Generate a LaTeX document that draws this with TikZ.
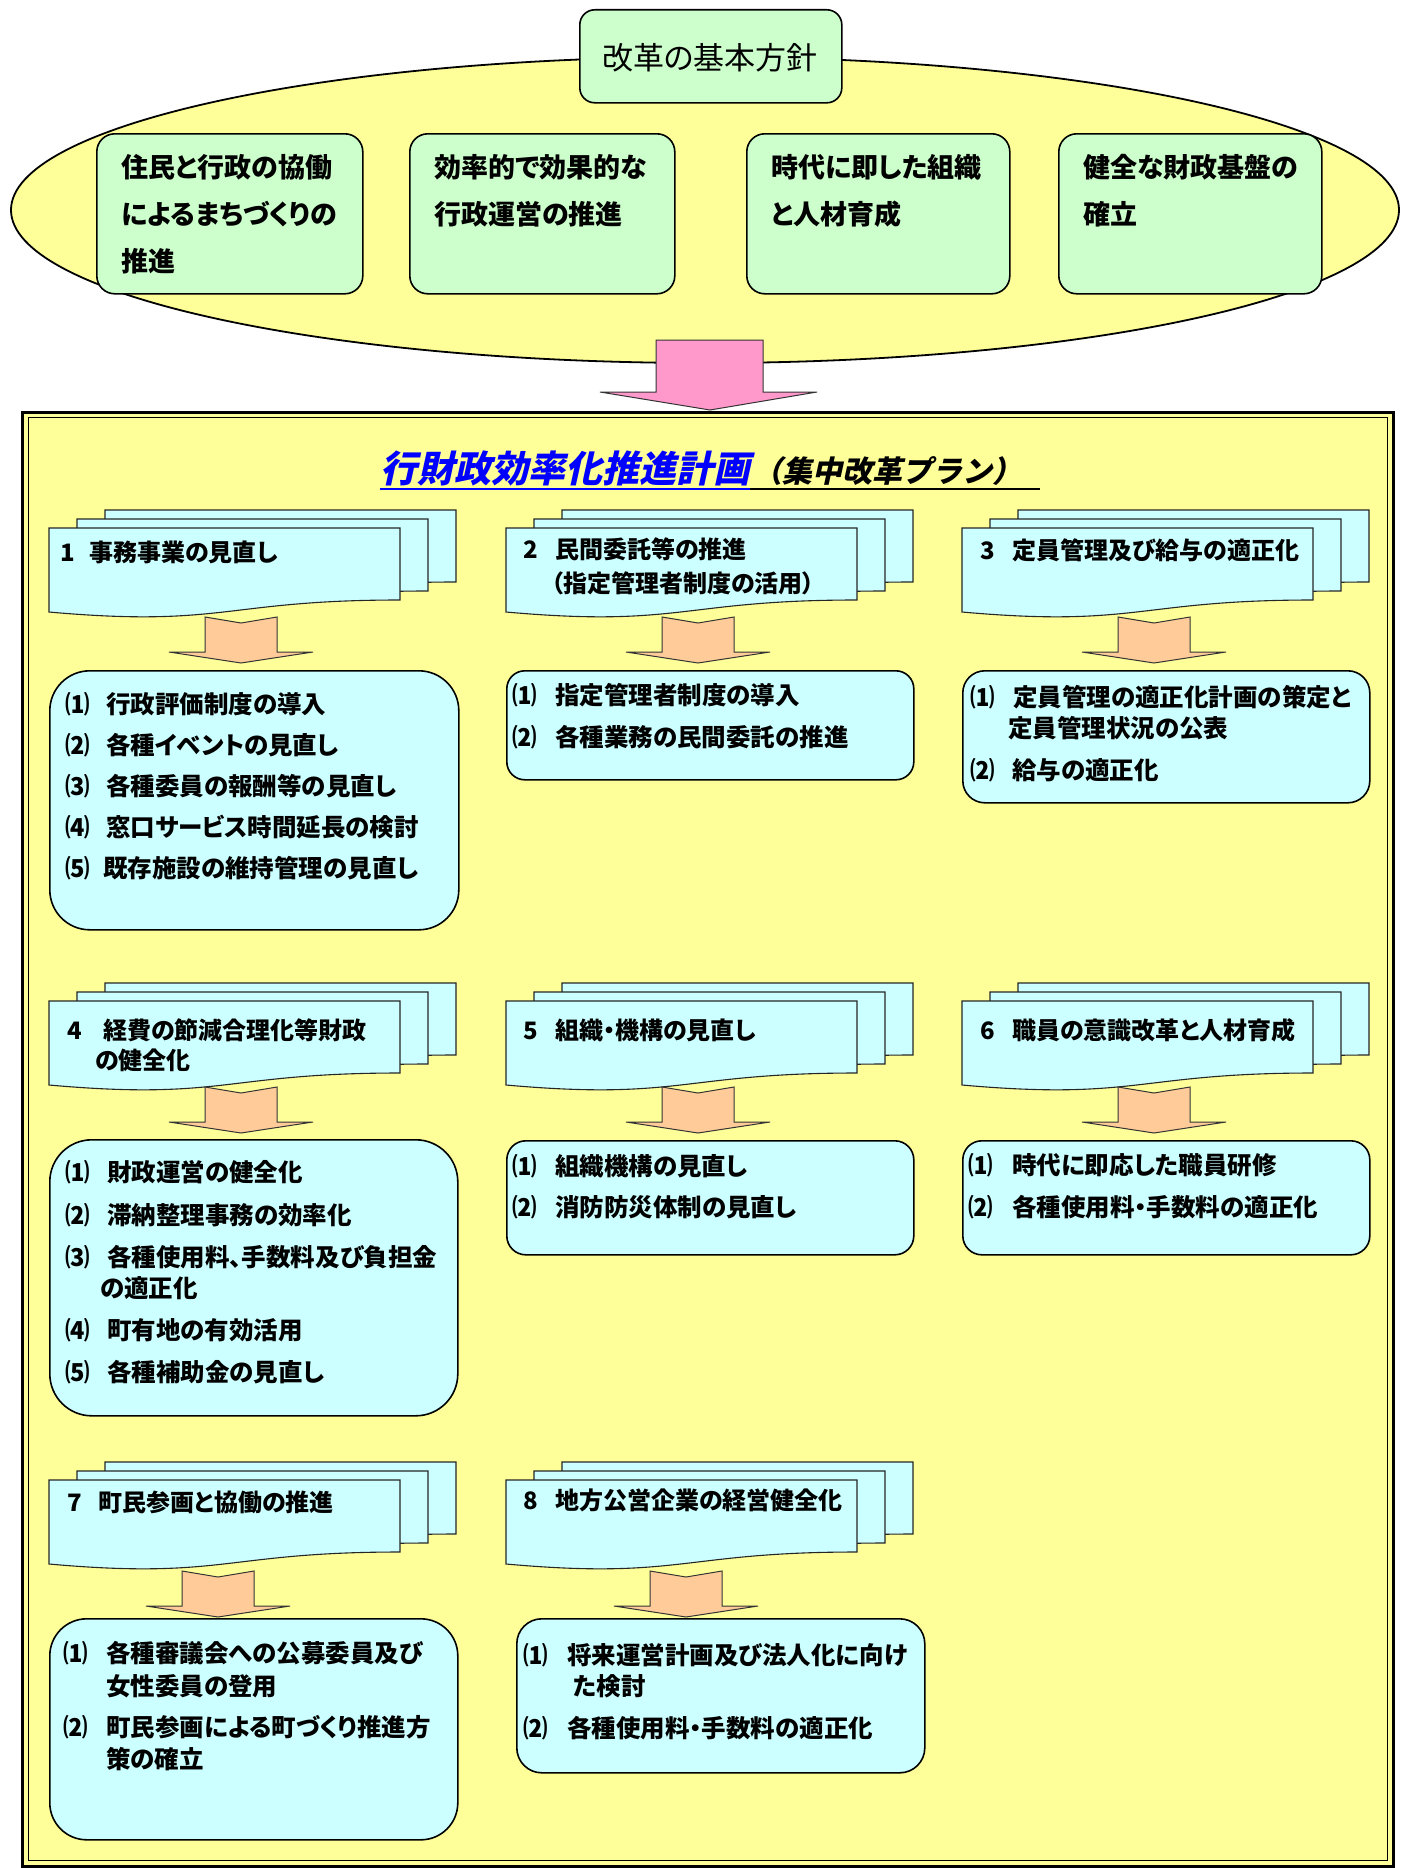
\documentclass[tikz,border=0pt]{standalone}
\usepackage{fontspec}
\newfontfamily\jp{Noto Sans CJK JP}[RawFeature=+palt]
\newfontfamily\jpit{Noto Sans CJK JP}[RawFeature=+palt,FakeSlant=0.22]
\newfontfamily\jpitn{Noto Sans CJK JP}[FakeSlant=0.22]
\definecolor{yel}{HTML}{FFFF99}
\definecolor{grn}{HTML}{CCFFCC}
\definecolor{cyn}{HTML}{CCFFFF}
\definecolor{org}{HTML}{FFCC99}
\definecolor{pnk}{HTML}{FF99CC}
\tikzset{
  docsh/.style={fill=cyn, draw=black!85, line width=1.1pt},
  cbox/.style={shape=rectangle, fill=cyn, draw=black, line width=1.6pt, anchor=north west, inner sep=0pt},
  gbox/.style={shape=rectangle, fill=grn, draw=black, line width=1.6pt, anchor=north west, inner sep=0pt, rounded corners=18pt},
  arr/.style={fill=org, draw=black!80, line width=1pt, line join=miter},
  hd/.style={anchor=west, inner sep=0pt, font=\jp\bfseries\fontsize{24}{28}\selectfont},
  it/.style={anchor=west, inner sep=0pt, font=\jp\bfseries\fontsize{24.5}{28}\selectfont},
  gt/.style={anchor=west, inner sep=0pt, font=\jp\bfseries\fontsize{27}{30}\selectfont},
  docstack/.pic={
    \foreach \s in {2,1,0}{
      \path[docsh, shift={(28*\s,-9*\s)}] (0,0) -- (351,0) -- (351,72)
        .. controls (175.5,72) and (175.5,99.7) .. (0,84) -- cycle;
    }
  }
}
\newcommand\blockarrow[2]{%
  \draw[arr] (#1-36,#2) -- (#1,#2+6) -- (#1+36,#2) -- (#1+36,#2+35) -- (#1+72,#2+35)
    -- (#1,#2+46) -- (#1-72,#2+35) -- (#1-36,#2+35) -- cycle;}
\begin{document}
\begin{tikzpicture}[x=1pt,y=-1pt]
\useasboundingbox (0,0) rectangle (1400,1868);
\fill[white] (0,0) rectangle (1400,1868);

% ---- top part
\draw[fill=yel, line width=1.8pt] (705,210) ellipse [x radius=694pt, y radius=153pt];
\node[gbox, minimum width=262pt, minimum height=93pt, rounded corners=15pt] (kb) at (579,9) {};
\node[anchor=center, inner sep=0pt, font=\jp\fontsize{31}{34}\selectfont] (kbt) at (710,58) {改革の基本方針};

\node[gbox, minimum width=266pt, minimum height=160pt] (g1) at (96,133) {};
\node[gbox, minimum width=265pt, minimum height=160pt] (g2) at (409,133) {};
\node[gbox, minimum width=263pt, minimum height=160pt] (g3) at (746,133) {};
\node[gbox, minimum width=263pt, minimum height=160pt] (g4) at (1058,133) {};
\node[gt] (g1a) at (121,167) {住民と行政の協働};
\node[gt] (g1b) at (121,214) {によるまちづくりの};
\node[gt] (g1c) at (121,261) {推進};
\node[gt] (g2a) at (434,167) {効率的で効果的な};
\node[gt] (g2b) at (434,214) {行政運営の推進};
\node[gt] (g3a) at (771,167) {時代に即した組織};
\node[gt] (g3b) at (771,214) {と人材育成};
\node[gt] (g4a) at (1083,167) {健全な財政基盤の};
\node[gt] (g4b) at (1083,214) {確立};

% ---- frame
\draw[fill=yel, line width=3pt] (22.5,412) rectangle (1393,1866);
\draw[line width=1.8pt] (28.5,417.5) rectangle (1387.5,1860.5);

% pink arrow
\draw[fill=pnk, draw=black!80, line width=1pt] (656,340) -- (763,340) -- (763,392) -- (817,392)
  -- (710,410) -- (600,392) -- (656,392) -- cycle;

% title
\node[anchor=base west, inner sep=0pt, text=blue, font=\jpit\bfseries\fontsize{37}{40}\selectfont] (tt1) at (380,482) {行財政効率化推進計画};
\node[anchor=base west, inner sep=0pt, font=\jpitn\bfseries\fontsize{30}{34}\selectfont] (tt2) at ([xshift=2pt]tt1.base east) {（集中改革プラン）};
\coordinate (ulend) at (1040,488);
\draw[blue, line width=2.5pt] ([yshift=-3pt]tt1.south west) -- ([yshift=-3pt]tt1.south east);
\draw[black, line width=2.5pt] ([yshift=-3pt]tt1.south east) -- ([yshift=-3pt]tt1.south east -| ulend);

% ---- document stacks
\pic at (49,528) {docstack};
\pic at (506,528) {docstack};
\pic at (962,528) {docstack};
\pic at (49,1001) {docstack};
\pic at (506,1001) {docstack};
\pic at (962,1001) {docstack};
\pic at (49,1480) {docstack};
\pic at (506,1480) {docstack};

% ---- block arrows
\blockarrow{241}{617}
\blockarrow{698}{617}
\blockarrow{1154}{617}
\blockarrow{241}{1087}
\blockarrow{698}{1087}
\blockarrow{1154}{1087}
\blockarrow{218}{1571}
\blockarrow{686}{1571}

% ---- content boxes
\node[cbox, minimum width=409pt, minimum height=259pt, rounded corners=40pt] (c1) at (49,670) {};
\node[cbox, minimum width=407pt, minimum height=109pt, rounded corners=18pt] (c2) at (506,670) {};
\node[cbox, minimum width=407pt, minimum height=132pt, rounded corners=22pt] (c3) at (962,670) {};
\node[cbox, minimum width=408pt, minimum height=276pt, rounded corners=42pt] (c4) at (49,1139) {};
\node[cbox, minimum width=407pt, minimum height=114pt, rounded corners=19pt] (c5) at (506,1140) {};
\node[cbox, minimum width=407pt, minimum height=114pt, rounded corners=19pt] (c6) at (962,1140) {};
\node[cbox, minimum width=408pt, minimum height=221pt, rounded corners=37pt] (c7) at (49,1618) {};
\node[cbox, minimum width=408pt, minimum height=154pt, rounded corners=25pt] (c8) at (516,1618) {};

% ---- headers
\node[hd] (h1) at (60,552) {\makebox[29pt][l]{1}事務事業の見直し};
\node[hd] (h2a) at (523,549) {\makebox[32pt][l]{2}民間委託等の推進};
\node[hd] (h2b) at (551,583) {（指定管理者制度の活用）};
\node[hd] (h3) at (980,550) {\makebox[32pt][l]{3}定員管理及び給与の適正化};
\node[hd] (h4a) at (67,1030) {\makebox[36pt][l]{4}経費の節減合理化等財政};
\node[hd] (h4b) at (95,1060) {の健全化};
\node[hd] (h5) at (523,1030) {\makebox[32pt][l]{5}組織・機構の見直し};
\node[hd] (h6) at (980,1030) {\makebox[32pt][l]{6}職員の意識改革と人材育成};
\node[hd] (h7) at (67,1502) {\makebox[31pt][l]{7}町民参画と協働の推進};
\node[hd] (h8) at (523,1500) {\makebox[32pt][l]{8}地方公営企業の経営健全化};

% ---- items
\node[it] (t11) at (65,704) {\makebox[41pt][l]{⑴}行政評価制度の導入};
\node[it] (t12) at (65,745) {\makebox[41pt][l]{⑵}各種イベントの見直し};
\node[it] (t13) at (65,786) {\makebox[41pt][l]{⑶}各種委員の報酬等の見直し};
\node[it] (t14) at (65,827) {\makebox[41pt][l]{⑷}窓口サービス時間延長の検討};
\node[it] (t15) at (65,868) {\makebox[38pt][l]{⑸}既存施設の維持管理の見直し};

\node[it] (t21) at (512,695) {\makebox[43pt][l]{⑴}指定管理者制度の導入};
\node[it] (t22) at (512,737) {\makebox[43pt][l]{⑵}各種業務の民間委託の推進};

\node[it] (t31) at (970,697) {\makebox[43pt][l]{⑴}定員管理の適正化計画の策定と};
\node[it] (t31b) at (1008,728) {定員管理状況の公表};
\node[it] (t32) at (970,770) {\makebox[42pt][l]{⑵}給与の適正化};

\node[it] (t41) at (65,1172) {\makebox[42pt][l]{⑴}財政運営の健全化};
\node[it] (t42) at (65,1215) {\makebox[42pt][l]{⑵}滞納整理事務の効率化};
\node[it] (t43) at (65,1257) {\makebox[42pt][l]{⑶}各種使用料、手数料及び負担金};
\node[it] (t43b) at (100,1288) {の適正化};
\node[it] (t44) at (65,1330) {\makebox[42pt][l]{⑷}町有地の有効活用};
\node[it] (t45) at (65,1372) {\makebox[42pt][l]{⑸}各種補助金の見直し};

\node[it] (t51) at (512,1166) {\makebox[43pt][l]{⑴}組織機構の見直し};
\node[it] (t52) at (512,1207) {\makebox[43pt][l]{⑵}消防防災体制の見直し};

\node[it] (t61) at (968,1165) {\makebox[44pt][l]{⑴}時代に即応した職員研修};
\node[it] (t62) at (968,1207) {\makebox[44pt][l]{⑵}各種使用料・手数料の適正化};

\node[it] (t71) at (63,1653) {\makebox[43pt][l]{⑴}各種審議会への公募委員及び};
\node[it] (t71b) at (106,1686) {女性委員の登用};
\node[it] (t72) at (63,1727) {\makebox[43pt][l]{⑵}町民参画による町づくり推進方};
\node[it] (t72b) at (106,1759) {策の確立};

\node[it] (t81) at (523,1655) {\makebox[44pt][l]{⑴}将来運営計画及び法人化に向け};
\node[it] (t81b) at (573,1686) {た検討};
\node[it] (t82) at (523,1728) {\makebox[44pt][l]{⑵}各種使用料・手数料の適正化};
\end{tikzpicture}
\end{document}
